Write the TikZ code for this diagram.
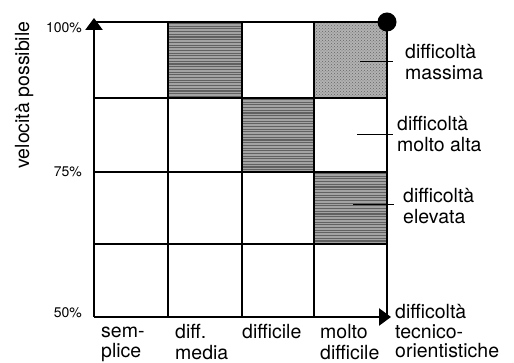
\documentclass[tikz,border=0pt]{standalone}
\usepackage{fontspec}
\setmainfont{TeX Gyre Heros}
\usetikzlibrary{arrows.meta,patterns}
\begin{document}
\begin{tikzpicture}[x=1pt,y=-1pt,
  big/.style={font=\fontsize{19.5}{19.5}\selectfont, inner sep=0pt, align=left},
  bot/.style={font=\fontsize{19.5}{18.5}\selectfont, inner sep=0pt, align=left},
  pct/.style={font=\fontsize{14}{14}\selectfont, inner sep=0pt},
  inner/.style={line width=1.3pt},
  border/.style={line width=1.6pt},
  axis/.style={line width=2.6pt},
  leader/.style={line width=1pt},
  stripes/.style={fill=black!36},
  dots/.style={fill=black!30},
]
\useasboundingbox (0,0) rectangle (514,363);
% shaded cells
\fill[stripes] (168,22) rectangle (242,98);
\fill[stripes] (242,98) rectangle (314,172);
\fill[stripes] (314,172) rectangle (387,244);
\foreach \y in {23.5,26.2,...,97} {
  \draw[black!62,line width=1.1pt] (168,\y) -- (242,\y);
}
\foreach \y in {99.5,102.2,...,171} {
  \draw[black!62,line width=1.1pt] (242,\y) -- (314,\y);
}
\foreach \y in {173.5,176.2,...,243} {
  \draw[black!62,line width=1.1pt] (314,\y) -- (387,\y);
}
\fill[dots] (314,22) rectangle (387,98);
\fill[pattern=crosshatch dots, pattern color=black!60] (314,22) rectangle (387,98);
% inner grid
\foreach \x in {168,242,314} \draw[inner] (\x,22) -- (\x,317);
\foreach \y in {98,172,244} \draw[inner] (94,\y) -- (387,\y);
% top and right border
\draw[border] (94,22) -- (387,22) -- (387,317);
% axes
\coordinate (o) at (94,317);
\coordinate (ytip) at (94,18);
\coordinate (xtip) at (391,317);
\draw[axis,-{Triangle[length=12pt,width=17pt]}] (o) -- (ytip);
\draw[axis,-{Triangle[length=12pt,width=17pt]}] (o) -- (xtip);
% dot
\node[circle, fill=black, minimum size=19pt, inner sep=0pt] (dot) at (387,22) {};
% y labels
\node[pct, anchor=base east] (p100) at (82,33) {100\%};
\node[pct, anchor=base east] (p75) at (82,177) {75\%};
\node[pct, anchor=base east] (p50) at (82,317) {50\%};
\node[big, rotate=90, anchor=base] (vp) at (29,95) {velocità possibile};
% right labels
\node[big, anchor=north west] (lm) at (405,44) {\strut difficoltà\\massima};
\node[big, anchor=north west] (la) at (397,116) {\strut difficoltà\\molto alta};
\node[big, anchor=north west] (le) at (403,188) {\strut difficoltà\\elevata};
\coordinate (cm) at (360,62);
\coordinate (cme) at (393,62);
\coordinate (ca) at (357,135);
\coordinate (cae) at (393,135);
\coordinate (ce) at (353,205);
\coordinate (cee) at (394,205);
\draw[leader] (cm) -- (cme);
\draw[leader] (ca) -- (cae);
\draw[leader] (ce) -- (cee);
% bottom labels
\node[bot, anchor=north west] (bs) at (101,324) {\strut sem-\\plice};
\node[bot, anchor=north west] (bm) at (175,324) {\strut diff.\\media};
\node[bot, anchor=north west] (bd) at (242,324) {\strut difficile};
\node[bot, anchor=north west] (bmd) at (320,324) {\strut molto\\difficile};
\node[bot, anchor=north west] (bt) at (395,304) {\strut difficoltà\\tecnico-\\orientistiche};
\end{tikzpicture}
\end{document}
